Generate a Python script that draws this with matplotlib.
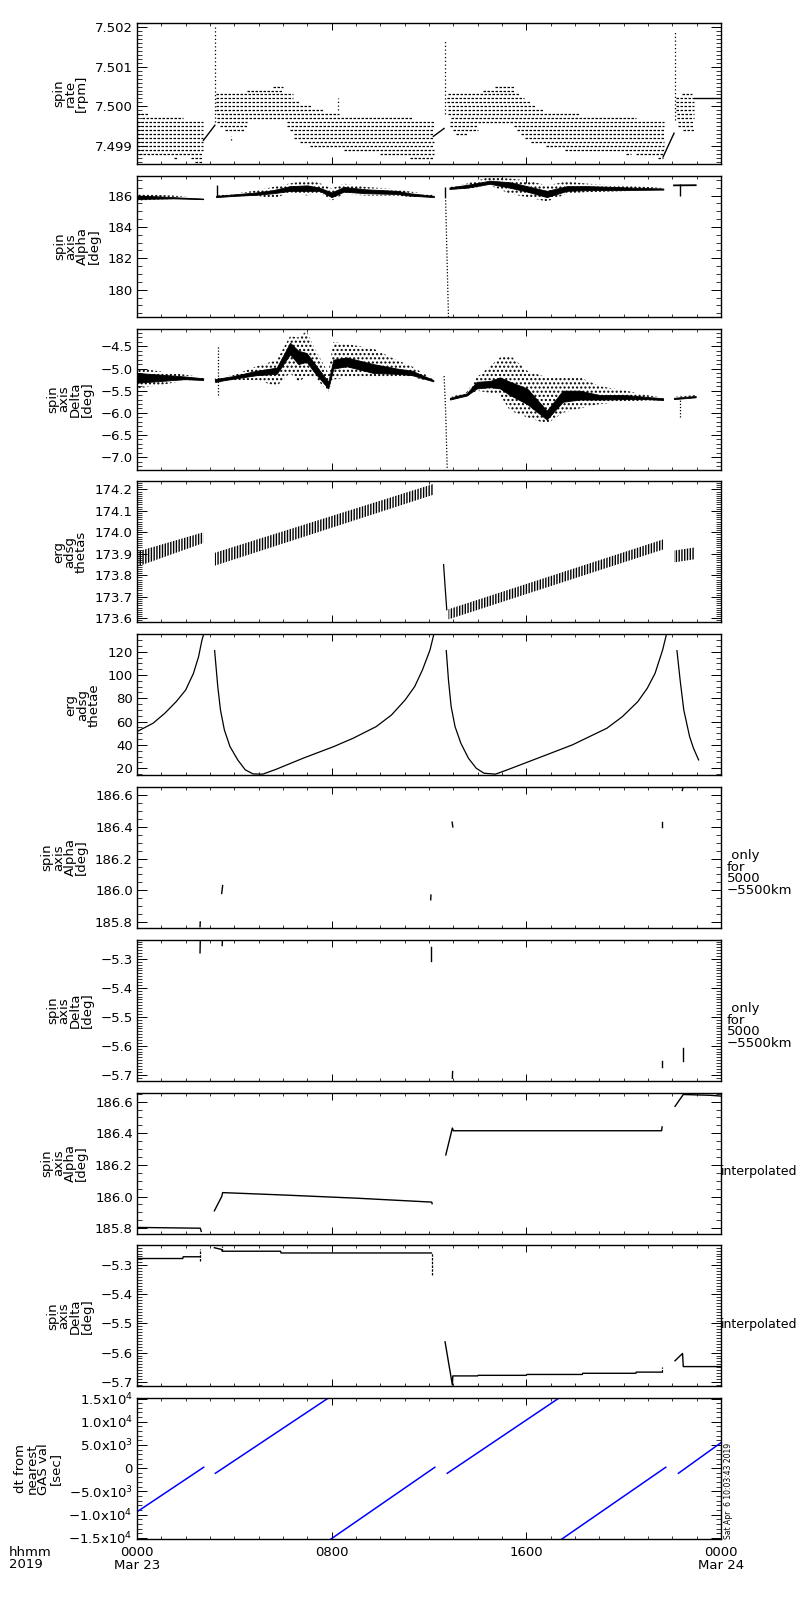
import numpy as np
import matplotlib
matplotlib.use('Agg')
import matplotlib.pyplot as plt
from matplotlib.ticker import FixedLocator, MultipleLocator, FuncFormatter

plt.rcParams['font.family'] = ['DejaVu Sans']
plt.rcParams['font.size'] = 9.5
plt.rcParams['hatch.linewidth'] = 1.0
plt.rcParams['axes.linewidth'] = 1.0

# time axis: hours from 0000 Mar 23
hour_ticks = [0, 8, 16, 24]
hour_labels = ['0000\nMar 23', '0800', '1600', '0000\nMar 24']

# ---- spin rate [rpm]: rows of quantised points (level, first hour, last hour)
rate_lev = [7.4998, 7.4997, 7.4996, 7.4995, 7.4994, 7.4993, 7.4992, 7.4991, 7.4990, 7.4989, 7.4988, 7.4987, 7.4987, 7.4986,
            7.5005, 7.5004, 7.5003, 7.5002, 7.5001, 7.5000, 7.4999, 7.4998, 7.4997, 7.4996, 7.4996, 7.4995, 7.4995, 7.4994,
            7.4994, 7.4993, 7.4992, 7.4991, 7.4990, 7.4989, 7.4988, 7.4987,
            7.5005, 7.5004, 7.5003, 7.5002, 7.5001, 7.5000, 7.4999, 7.4998, 7.4997, 7.4996, 7.4995, 7.4995, 7.4994, 7.4994,
            7.4993, 7.4993, 7.4992, 7.4991, 7.4990, 7.4989, 7.4988, 7.4988, 7.4987,
            7.5003, 7.5002, 7.5001, 7.5000, 7.4999, 7.4998, 7.4997, 7.4996, 7.4995, 7.4994]
rate_t0 = [0.0, 0.2, 0.0, 0.0, 0.0, 0.0, 0.0, 0.0, 0.0, 0.0, 0.1, 1.5, 2.2, 2.4,
           5.6, 4.5, 3.25, 3.25, 3.25, 3.25, 3.25, 3.3, 3.3, 3.3, 6.15, 3.4, 6.15, 3.6,
           6.3, 6.45, 6.45, 6.7, 7.1, 8.5, 10.0, 11.2,
           14.7, 14.2, 12.8, 12.75, 12.75, 12.8, 12.8, 12.8, 12.9, 12.85, 12.85, 15.5, 13.0, 15.6,
           13.1, 15.8, 15.95, 16.2, 16.8, 17.6, 20.1, 20.5, 21.4,
           22.4, 22.15, 22.15, 22.15, 22.15, 22.2, 22.2, 22.25, 22.25, 22.45]
rate_t1 = [0.5, 1.9, 2.7, 2.7, 2.7, 2.7, 2.7, 2.7, 2.7, 2.7, 2.7, 1.7, 2.7, 2.7,
           6.0, 6.0, 6.4, 6.4, 6.7, 7.2, 7.7, 8.3, 11.3, 4.5, 12.2, 4.5, 12.2, 4.4,
           12.2, 12.2, 12.2, 12.2, 12.2, 12.2, 12.2, 12.2,
           15.5, 15.5, 15.7, 15.9, 16.2, 16.4, 16.7, 18.2, 20.5, 21.65, 14.0, 21.65, 14.0, 21.65,
           13.6, 21.65, 21.65, 21.65, 21.65, 21.65, 20.3, 21.6, 21.6,
           22.8, 22.87, 22.87, 22.87, 22.87, 22.87, 22.87, 22.87, 22.87, 22.87]
rate_spike_t = [3.22, 3.85, 8.27, 12.66, 22.1]
rate_spike_lo = [7.4996, 7.49915, 7.4999, 7.4998, 7.49965]
rate_spike_hi = [7.5020, 7.49925, 7.5002, 7.5017, 7.5019]
rate_ramp_t = [[2.73, 3.2], [12.18, 12.62], [21.62, 22.07]]
rate_ramp_v = [[7.49914, 7.49952], [7.49924, 7.49944], [7.49872, 7.49932]]
rate_tail_t = [22.9, 24.0]
rate_tail_v = [7.50022, 7.50022]

# ---- spin axis Alpha: outer cloud and dense core per data segment
alpha_t = [[0.0, 0.5, 1.0, 1.5, 2.0, 2.72],
           [3.25, 4.0, 4.9, 5.6, 6.3, 7.0, 7.5, 8.0, 8.5, 9.4, 10.7, 11.2, 12.2],
           [12.84, 13.55, 14.5, 15.33, 16.03, 16.84, 17.67, 18.5, 19.6, 20.4, 21.63]]
alpha_lo = [[185.68, 185.72, 185.75, 185.78, 185.78, 185.75],
            [185.88, 185.95, 186.0, 185.8, 186.2, 186.0, 186.2, 185.68, 186.1, 186.0, 186.0, 185.9, 185.85],
            [186.39, 186.43, 186.65, 186.11, 185.9, 185.62, 186.11, 186.22, 186.26, 186.3, 186.35]]
alpha_hi = [[186.11, 186.07, 186.03, 186.0, 185.92, 185.83],
            [186.0, 186.12, 186.32, 186.55, 186.78, 186.97, 186.8, 186.45, 186.76, 186.55, 186.4, 186.26, 186.05],
            [186.54, 186.76, 187.19, 187.08, 186.97, 186.65, 186.9, 186.76, 186.65, 186.6, 186.48]]
alpha_clo = [[185.78, 185.8, 185.81, 185.82, 185.8, 185.77],
             [185.9, 185.98, 186.05, 186.15, 186.3, 186.3, 186.3, 185.9, 186.25, 186.15, 186.1, 186.0, 185.9],
             [186.42, 186.5, 186.75, 186.5, 186.25, 185.9, 186.3, 186.35, 186.35, 186.36, 186.38]]
alpha_chi = [[186.0, 185.97, 185.94, 185.9, 185.86, 185.81],
             [185.98, 186.08, 186.2, 186.35, 186.6, 186.65, 186.5, 186.2, 186.55, 186.4, 186.3, 186.15, 185.98],
             [186.52, 186.68, 186.95, 186.85, 186.6, 186.3, 186.6, 186.6, 186.55, 186.5, 186.45]]
alpha_tail_t = [22.07, 22.96]
alpha_tail_v = [186.65, 186.66]
alpha_spike_t = [3.27, 12.66, 22.3]
alpha_spike_lo = [185.9, 185.9, 186.0]
alpha_spike_hi = [186.7, 186.54, 186.76]
alpha_dive_t = [12.68, 12.8]
alpha_dive_v = [185.9, 178.27]

# ---- spin axis Delta
delta_t = [[0.0, 1.0, 1.97, 2.72],
           [3.2, 3.96, 4.92, 5.74, 6.29, 6.63, 6.97, 7.31, 7.86, 8.07, 8.62, 9.71, 10.67, 11.3, 12.18],
           [12.86, 13.55, 13.96, 14.51, 14.92, 15.33, 16.03, 16.84, 17.5, 18.2, 19.03, 20.1, 20.95, 21.62],
           [22.07, 22.96]]
delta_lo = [[-5.45, -5.37, -5.27, -5.27],
            [-5.33, -5.26, -5.26, -5.4, -5.1, -5.3, -5.18, -5.2, -5.52, -5.25, -5.2, -5.2, -5.2, -5.2, -5.3],
            [-5.71, -5.63, -5.5, -5.55, -5.6, -5.95, -6.1, -6.25, -6.0, -5.9, -5.8, -5.75, -5.72, -5.72],
            [-5.7, -5.66]]
delta_hi = [[-4.99, -5.07, -5.14, -5.2],
            [-5.22, -5.15, -4.95, -4.81, -4.27, -4.3, -4.16, -4.55, -5.1, -4.4, -4.45, -4.55, -4.81, -4.95, -5.25],
            [-5.65, -5.53, -5.2, -4.95, -4.75, -4.7, -5.05, -5.2, -5.2, -5.2, -5.4, -5.5, -5.6, -5.66],
            [-5.64, -5.6]]
delta_clo = [[-5.32, -5.28, -5.24, -5.26],
             [-5.3, -5.23, -5.15, -5.12, -4.68, -4.9, -4.85, -5.1, -5.45, -5.0, -4.95, -5.1, -5.12, -5.15, -5.29],
             [-5.7, -5.61, -5.45, -5.42, -5.45, -5.6, -5.8, -6.15, -5.75, -5.7, -5.7, -5.69, -5.69, -5.71],
             [-5.69, -5.65]]
delta_chi = [[-5.1, -5.14, -5.18, -5.22],
             [-5.24, -5.17, -5.05, -4.98, -4.42, -4.6, -4.65, -4.9, -5.3, -4.8, -4.75, -4.9, -5.0, -5.05, -5.26],
             [-5.66, -5.56, -5.3, -5.28, -5.2, -5.3, -5.45, -5.95, -5.5, -5.5, -5.6, -5.6, -5.64, -5.67],
             [-5.66, -5.62]]
delta_spike_t = [3.34, 22.3]
delta_spike_lo = [-5.6, -6.1]
delta_spike_hi = [-4.5, -5.59]
delta_dive_t = [12.62, 12.68, 12.75]
delta_dive_v = [-5.17, -5.9, -7.28]

# ---- erg adsg thetas (bands of short vertical strokes)
thetas_t = [[0.0, 2.72], [3.2, 12.18], [12.8, 21.62], [22.07, 22.93]]
thetas_lo = [[173.84, 173.95], [173.845, 174.175], [173.595, 173.92], [173.86, 173.875]]
thetas_hi = [[173.91, 174.0], [173.905, 174.225], [173.642, 173.967], [173.915, 173.93]]
thetas_drop_t = [12.6, 12.66, 12.73]
thetas_drop_v = [173.85, 173.75, 173.64]

# ---- erg adsg thetae
thetae_t = [[0.0, 0.66, 1.14, 1.61, 2.0, 2.32, 2.53, 2.67, 2.75],
            [3.19, 3.32, 3.43, 3.59, 3.82, 4.14, 4.45, 4.77, 5.17, 5.72, 6.83, 8.09, 8.88, 9.83, 10.46,
             11.02, 11.41, 11.73, 12.04, 12.2],
            [12.71, 12.8, 12.91, 13.07, 13.31, 13.62, 13.94, 14.26, 14.73, 15.28, 16.47, 17.89, 19.31,
             19.95, 20.58, 20.97, 21.29, 21.6, 21.76],
            [22.19, 22.32, 22.47, 22.71, 22.87, 23.08]]
thetae_v = [[51.4, 58.6, 67.1, 77.1, 87.1, 101.4, 115.7, 130, 135.7],
            [120.9, 90, 70, 52.9, 38.6, 27.1, 18.6, 15.1, 14.9, 19.1, 28.6, 38.6, 45.7, 55.7, 65.7,
             78.6, 90, 104.3, 121.4, 135],
            [120.9, 95.7, 72.9, 55.7, 41.4, 28.6, 20, 15.7, 14.9, 19.1, 28.6, 40, 54.3,
             64.3, 77.1, 88.6, 101.4, 121.4, 135],
            [120.9, 95.7, 70, 47.1, 37.1, 27.1]]

# ---- Alpha / Delta only for 5000-5500km (short pieces: t0, v0, t1, v1)
near_a_t0 = [2.59, 3.48, 12.07, 12.95, 21.56, 22.41]
near_a_v0 = [185.77, 185.98, 185.94, 186.43, 186.40, 186.63]
near_a_t1 = [2.60, 3.52, 12.08, 12.98, 21.56, 22.44]
near_a_v1 = [185.80, 186.03, 185.97, 186.40, 186.43, 186.65]
near_d_t0 = [2.59, 3.50, 12.08, 12.96, 21.56, 22.43]
near_d_v0 = [-5.279, -5.254, -5.306, -5.712, -5.673, -5.654]
near_d_t1 = [2.60, 3.51, 12.08, 12.97, 21.56, 22.43]
near_d_v1 = [-5.238, -5.236, -5.259, -5.689, -5.654, -5.607]

# ---- interpolated Alpha / Delta
interp_a_t = [[0.0, 2.6, 2.64],
              [3.18, 3.48, 3.52, 6.0, 9.0, 12.11, 12.13],
              [12.69, 12.96, 13.0, 21.56, 21.58],
              [22.11, 22.45, 23.55, 24.0]]
interp_a_v = [[185.805, 185.80, 185.78],
              [185.91, 186.0, 186.025, 186.01, 185.99, 185.965, 185.955],
              [186.263, 186.433, 186.416, 186.416, 186.44],
              [186.57, 186.645, 186.64, 186.635]]
interp_d_t = [[0.0, 1.88, 1.9, 2.6],
              [3.18, 3.48, 3.5, 5.9, 5.92, 12.1],
              [12.66, 12.96, 12.98, 14.0, 14.02, 16.0, 16.02, 18.3, 18.32, 20.5, 20.52, 21.58],
              [22.11, 22.42, 22.45, 24.0]]
interp_d_v = [[-5.277, -5.277, -5.271, -5.271],
              [-5.240, -5.246, -5.252, -5.252, -5.258, -5.258],
              [-5.563, -5.711, -5.68, -5.68, -5.678, -5.678, -5.675, -5.675, -5.671, -5.671, -5.667, -5.667],
              [-5.628, -5.603, -5.648, -5.648]]
interp_d_tick_t = [2.6, 3.49, 12.12, 21.56]
interp_d_tick_lo = [-5.285, -5.252, -5.334, -5.667]
interp_d_tick_hi = [-5.243, -5.233, -5.258, -5.651]

# ---- dt from nearest GAS val [sec] (segment end points)
dt_t0 = [0.0, 3.22, 7.96, 12.75, 17.45, 22.25]
dt_v0 = [-9400, -1100, -15300, -1100, -15300, -1100]
dt_t1 = [2.74, 7.86, 12.24, 17.34, 21.73, 24.0]
dt_v1 = [200, 15100, 200, 15100, 200, 5500]

W, H = 800, 1600


def rect(i):
    top = 23 + 152.8 * i
    return [137 / W, 1 - (top + 141) / H, 584 / W, 141 / H]


def fmt(spec):
    return FuncFormatter(lambda v, p: (spec % v).replace('-', '\u2212'))


def sci(v, p):
    if abs(v) < 1e-9:
        return '0'
    e = int(np.floor(np.log10(abs(v)) + 1e-9))
    s = '%.1fx10$^{%d}$' % (abs(v) / 10 ** e, e)
    return '\u2212' + s if v < 0 else s


def style(ax, ylim, major, minor, formatter, label):
    ax.set_xlim(0, 24)
    ax.set_ylim(*ylim)
    ax.xaxis.set_major_locator(FixedLocator(hour_ticks))
    ax.xaxis.set_minor_locator(MultipleLocator(1))
    ax.yaxis.set_major_locator(FixedLocator(major))
    ax.yaxis.set_minor_locator(MultipleLocator(minor))
    ax.yaxis.set_major_formatter(formatter)
    ax.tick_params(which='both', direction='in', top=True, right=True, width=0.7, labelbottom=False)
    ax.tick_params(which='minor', width=0.55)
    ax.tick_params(axis='x', which='major', length=5)
    ax.tick_params(axis='x', which='minor', length=2.5)
    ax.tick_params(axis='y', which='major', length=7, pad=3)
    ax.tick_params(axis='y', which='minor', length=3.5)
    ax.set_ylabel(label, linespacing=0.85, labelpad=5)


def cloud(ax, t, lo, hi, clo, chi):
    for i in range(len(t)):
        ax.fill_between(t[i], lo[i], hi[i], facecolor='none', edgecolor='k', hatch='....', linewidth=0)
        ax.fill_between(t[i], clo[i], chi[i], color='k', linewidth=0.6)


fig = plt.figure(figsize=(W / 100, H / 100), dpi=100)
axes = [fig.add_axes(rect(i)) for i in range(10)]

# 1 spin rate
ax = axes[0]
ax.hlines(rate_lev, rate_t0, rate_t1, colors='k', linewidth=0.9, linestyles=(0, (2, 1.2)))
ax.vlines(rate_spike_t, rate_spike_lo, rate_spike_hi, colors='k', linewidth=0.9, linestyles=(0, (1, 2)))
for t, v in zip(rate_ramp_t, rate_ramp_v):
    ax.plot(t, v, color='k', lw=1.0)
ax.plot(rate_tail_t, rate_tail_v, color='k', lw=1.0)
style(ax, (7.49854, 7.50211), [7.499, 7.500, 7.501, 7.502], 0.0001, fmt('%.3f'), 'spin\nrate\n[rpm]')

# 2 spin axis Alpha
ax = axes[1]
cloud(ax, alpha_t, alpha_lo, alpha_hi, alpha_clo, alpha_chi)
ax.plot(alpha_tail_t, alpha_tail_v, color='k', lw=1.3)
ax.vlines(alpha_spike_t, alpha_spike_lo, alpha_spike_hi, colors='k', linewidth=1.0)
ax.plot(alpha_dive_t, alpha_dive_v, color='k', lw=0.9, ls=(0, (1, 1.5)))
style(ax, (178.27, 187.26), [180, 182, 184, 186], 0.5, fmt('%d'), 'spin\naxis\nAlpha\n[deg]')

# 3 spin axis Delta
ax = axes[2]
cloud(ax, delta_t, delta_lo, delta_hi, delta_clo, delta_chi)
ax.vlines(delta_spike_t, delta_spike_lo, delta_spike_hi, colors='k', linewidth=0.9, linestyles=(0, (1, 1.5)))
ax.plot(delta_dive_t, delta_dive_v, color='k', lw=0.9, ls=(0, (1, 1.5)))
style(ax, (-7.28, -4.10), [-7.0, -6.5, -6.0, -5.5, -5.0, -4.5], 0.1, fmt('%.1f'), 'spin\naxis\nDelta\n[deg]')

# 4 thetas
ax = axes[3]
for t, lo, hi in zip(thetas_t, thetas_lo, thetas_hi):
    ax.fill_between(t, lo, hi, facecolor='none', edgecolor='k', hatch='||||||', linewidth=0)
ax.plot(thetas_drop_t, thetas_drop_v, color='k', lw=0.9)
style(ax, (173.581, 174.237), [173.6, 173.7, 173.8, 173.9, 174.0, 174.1, 174.2], 0.01, fmt('%.1f'),
      'erg\nadsg\nthetas')

# 5 thetae
ax = axes[4]
for t, v in zip(thetae_t, thetae_v):
    ax.plot(t, v, color='k', lw=0.9)
style(ax, (14, 135), [20, 40, 60, 80, 100, 120], 5, fmt('%d'), 'erg\nadsg\nthetae')

# 6, 7 only for 5000-5500km
ax = axes[5]
for a, b, c, d in zip(near_a_t0, near_a_v0, near_a_t1, near_a_v1):
    ax.plot([a, c], [b, d], color='k', lw=1.0)
style(ax, (185.762, 186.652), [185.8, 186.0, 186.2, 186.4, 186.6], 0.05, fmt('%.1f'), 'spin\naxis\nAlpha\n[deg]')
ax = axes[6]
for a, b, c, d in zip(near_d_t0, near_d_v0, near_d_t1, near_d_v1):
    ax.plot([a, c], [b, d], color='k', lw=1.0)
style(ax, (-5.721, -5.234), [-5.7, -5.6, -5.5, -5.4, -5.3], 0.01, fmt('%.1f'), 'spin\naxis\nDelta\n[deg]')
for ax in axes[5:7]:
    ax.text(1.01, 0.39, ' only\nfor\n5000\n\u22125500km', transform=ax.transAxes, ha='left', va='center',
            linespacing=0.85)

# 8, 9 interpolated
ax = axes[7]
for t, v in zip(interp_a_t, interp_a_v):
    ax.plot(t, v, color='k', lw=1.0)
style(ax, (185.766, 186.657), [185.8, 186.0, 186.2, 186.4, 186.6], 0.05, fmt('%.1f'), 'spin\naxis\nAlpha\n[deg]')
ax = axes[8]
for t, v in zip(interp_d_t, interp_d_v):
    ax.plot(t, v, color='k', lw=1.0)
ax.vlines(interp_d_tick_t, interp_d_tick_lo, interp_d_tick_hi, colors='k', linewidth=0.9, linestyles=(0, (2, 1)))
style(ax, (-5.716, -5.232), [-5.7, -5.6, -5.5, -5.4, -5.3], 0.01, fmt('%.1f'), 'spin\naxis\nDelta\n[deg]')
for ax in axes[7:9]:
    ax.text(1.0, 0.44, 'interpolated', transform=ax.transAxes, ha='left', va='center', fontsize=9)

# 10 dt from nearest GAS val
ax = axes[9]
for a, b, c, d in zip(dt_t0, dt_v0, dt_t1, dt_v1):
    ax.plot([a, c], [b, d], color='#0000ff', lw=1.1)
style(ax, (-15300, 15080), [-15000, -10000, -5000, 0, 5000, 10000, 15000], 1000, FuncFormatter(sci),
      'dt from\nnearest\nGAS val\n[sec]')
ax.tick_params(axis='x', which='major', labelbottom=True, pad=5)
ax.set_xticklabels(hour_labels)
for lbl in ax.get_xticklabels():
    lbl.set_linespacing(0.95)
ax.text(1.005, 0.0, 'Sat Apr  6 10:03:43 2019', transform=ax.transAxes, rotation=90,
        ha='left', va='bottom', fontsize=5.5)
fig.text(9 / W, 1 - 1546 / H, 'hhmm\n2019', ha='left', va='top', linespacing=0.95)

fig.savefig('out.png', dpi=100)
